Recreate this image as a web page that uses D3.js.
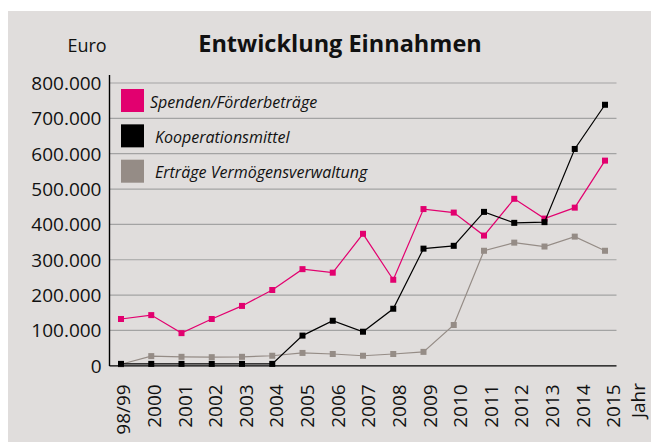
<!DOCTYPE html>
<html lang="de">
<head>
<meta charset="utf-8">
<title>Entwicklung Einnahmen</title>
<script src="https://d3js.org/d3.v7.min.js"></script>
<style>
  body { margin: 0; background: #fff; }
  text { font-family: "Open Sans"; fill: #111; }
  .legend text { font-style: italic; }
</style>
</head>
<body>
<svg width="651" height="442"></svg>
<script>
// data
const years = ["98/99", "2000", "2001", "2002", "2003", "2004", "2005", "2006", "2007",
  "2008", "2009", "2010", "2011", "2012", "2013", "2014", "2015"];
const spenden = [131000, 142000, 91000, 131000, 168000, 213000, 272000, 262000, 372000,
  242000, 442000, 432000, 367000, 471000, 415000, 446000, 579000];
const kooperation = [4000, 4000, 4000, 4000, 4000, 4000, 84000, 126000, 95000,
  160000, 330000, 338000, 434000, 403000, 405000, 612000, 737000];
const vermoegen = [3000, 26000, 24000, 23000, 24000, 27000, 35000, 32000, 27000,
  32000, 38000, 114000, 324000, 347000, 336000, 364000, 324000];
const yTicks = [0, 100000, 200000, 300000, 400000, 500000, 600000, 700000, 800000];
const seriesNames = ["Spenden/Förderbeträge", "Kooperationsmittel", "Erträge Vermögensverwaltung"];
const seriesColors = ["#e2006f", "#000000", "#958c86"];

const svg = d3.select("svg");

// grey panel
svg.append("rect").attr("x", 8).attr("y", 11).attr("width", 643).attr("height", 431)
  .attr("fill", "#e0dddc");

const x = d3.scalePoint().domain(years).range([121, 605]);
const xLab = d3.scalePoint().domain(years).range([123, 613]);
const y = d3.scaleLinear().domain([0, 800000]).range([365.3, 82.5]);

const de = d3.formatLocale({decimal: ",", thousands: ".", grouping: [3], currency: ["", " €"]});
const fmt = de.format(",d");

// y axis + gridlines
const gy = svg.append("g").attr("transform", "translate(109.5,0)")
  .call(d3.axisLeft(y).tickValues(yTicks).tickFormat(fmt).tickSize(-507).tickPadding(8))
  .attr("font-family", null).attr("font-size", null);
gy.select(".domain").remove();
gy.selectAll(".tick line").attr("stroke", d => d === 0 ? "#000" : "#a3a3a3")
  .attr("stroke-width", d => d === 0 ? 1.3 : 1.2);
gy.selectAll(".tick text").style("font-size", "19px").attr("fill", null).attr("dy", "0.36em");

svg.append("line").attr("x1", 109.5).attr("x2", 109.5).attr("y1", 75).attr("y2", y(0) + 0.7)
  .attr("stroke", "#000").attr("stroke-width", 1.4);

// x axis labels
const gx = svg.append("g").attr("transform", `translate(0,${y(0)})`)
  .call(d3.axisBottom(xLab).tickSize(0))
  .attr("font-family", null).attr("font-size", null);
gx.select(".domain").remove();
gx.selectAll(".tick text")
  .style("font-size", "19px")
  .attr("fill", null)
  .attr("text-anchor", "end")
  .attr("transform", "rotate(-90)")
  .attr("x", -19).attr("y", 0).attr("dy", "0.36em");

svg.append("text").attr("transform", "translate(645,383) rotate(-90)")
  .attr("text-anchor", "end").style("font-size", "19px").text("Jahr");

// title
svg.append("text").attr("x", 340).attr("y", 52).attr("text-anchor", "middle")
  .style("font-size", "23.5px").style("font-weight", "bold").text("Entwicklung Einnahmen");
svg.append("text").attr("x", 87).attr("y", 52).attr("text-anchor", "middle")
  .style("font-size", "18px").text("Euro");

// legend
const legend = svg.append("g").attr("class", "legend");
seriesNames.forEach((name, i) => {
  const top = y(800000 - i * 100000) + 6.5;
  legend.append("rect").attr("x", 121).attr("y", top).attr("width", 23).attr("height", 23)
    .attr("fill", seriesColors[i]);
  legend.append("text").attr("x", i === 0 ? 150 : 155).attr("y", top + 18.5)
    .style("font-size", "16px").text(name);
});

// lines
const line = d3.line().x((d, i) => x(years[i])).y(d => y(d));
const drawOrder = [[vermoegen, 2], [spenden, 0], [kooperation, 1]];
drawOrder.forEach(([vals, c]) => {
  svg.append("path").datum(vals).attr("d", line).attr("fill", "none")
    .attr("stroke", seriesColors[c]).attr("stroke-width", 1.2);
  svg.append("g").selectAll("rect").data(vals).join("rect")
    .attr("x", (d, i) => x(years[i]) - 3).attr("y", d => y(d) - 3)
    .attr("width", 6).attr("height", 6).attr("fill", seriesColors[c]);
});
</script>
</body>
</html>
